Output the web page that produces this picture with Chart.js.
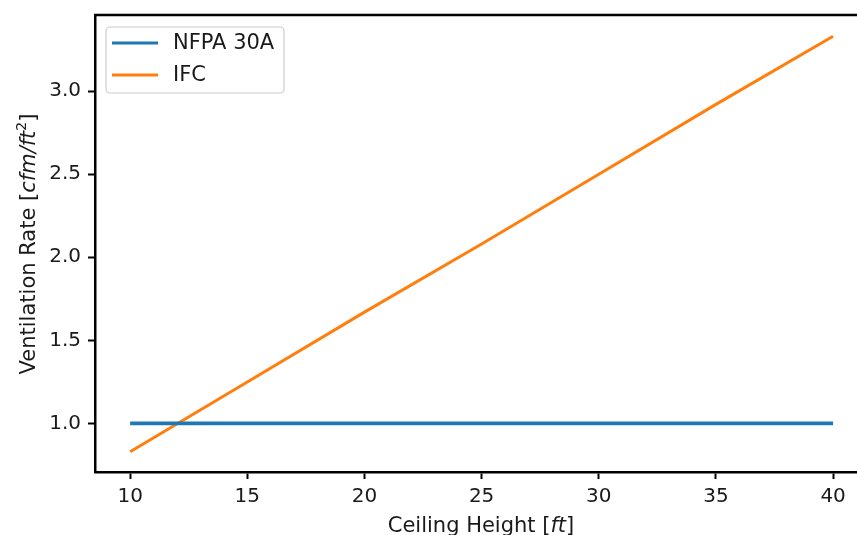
<!DOCTYPE html>
<html>
<head>
<meta charset="utf-8">
<script src="https://cdn.jsdelivr.net/npm/chart.js@4.4.1/dist/chart.umd.min.js"></script>
<style>
  html, body { margin: 0; padding: 0; background: #fff; overflow: hidden; }
  #wrap { width: 857px; height: 535px; }
</style>
</head>
<body>
<div id="wrap"><canvas id="grafico" width="857" height="535"></canvas></div>
<script>
// dados
const alturas = [10, 15, 20, 25, 30, 35, 40];
const nfpa30a = [1.0, 1.0, 1.0, 1.0, 1.0, 1.0, 1.0];
const ifc = [0.83, 1.25, 1.67, 2.08, 2.5, 2.92, 3.33];
const ticksX = [10, 15, 20, 25, 30, 35, 40];
const ticksY = [1.0, 1.5, 2.0, 2.5, 3.0];
const nomes = ["NFPA 30A", "IFC"];

const fonte = "DejaVu Sans";
const tamTicks = 20;
const tamFonte = 21;
const corTexto = "#1a1a1a";

function pontos(xs, ys) {
  return xs.map((x, i) => ({ x: x, y: ys[i] }));
}

// escreve os títulos dos eixos (com itálico), a moldura de cima e a legenda
const extras = {
  id: "extras",
  afterDraw(chart) {
    const c = chart.ctx;
    const a = chart.chartArea;
    c.save();
    c.fillStyle = corTexto;
    c.textBaseline = "alphabetic";

    function partes(lista) {
      let largura = 0;
      lista.forEach(p => {
        c.font = (p.it ? "italic " : "") + (p.sz || tamFonte) + "px " + fonte;
        p.w = c.measureText(p.t).width;
        largura += p.w;
      });
      return largura;
    }
    function escrever(lista, x0, y0) {
      let x = x0;
      lista.forEach(p => {
        c.font = (p.it ? "italic " : "") + (p.sz || tamFonte) + "px " + fonte;
        c.textAlign = "left";
        c.fillText(p.t, x, y0 + (p.dy || 0));
        x += p.w;
      });
    }

    // eixo x
    const tx = [{ t: "Ceiling Height [" }, { t: "ft", it: true }, { t: "]" }];
    const lx = partes(tx);
    escrever(tx, 481 - lx / 2, 532);

    // eixo y
    const ty = [{ t: "Ventilation Rate [" }, { t: "cfm/ft", it: true }, { t: "2", sz: 14, dy: -9 }, { t: "]" }];
    const ly = partes(ty);
    c.save();
    c.translate(35, 244);
    c.rotate(-Math.PI / 2);
    escrever(ty, -ly / 2, 0);
    c.restore();

    // moldura superior
    c.strokeStyle = "#000";
    c.lineWidth = 2.5;
    c.beginPath();
    c.moveTo(a.left - 1, a.top);
    c.lineTo(a.right + 2, a.top);
    c.stroke();

    // legenda
    const bx = a.left + 11, by = a.top + 12, bw = 178, bh = 66, r = 4;
    c.fillStyle = "rgba(255,255,255,0.8)";
    c.strokeStyle = "#cccccc";
    c.lineWidth = 1.2;
    c.beginPath();
    c.roundRect(bx, by, bw, bh, r);
    c.fill();
    c.stroke();
    chart.data.datasets.forEach((d, i) => {
      const y = by + 16 + i * 32;
      c.strokeStyle = d.borderColor;
      c.lineWidth = 3;
      c.beginPath();
      c.moveTo(bx + 6, y);
      c.lineTo(bx + 52, y);
      c.stroke();
      c.fillStyle = corTexto;
      c.font = tamFonte + "px " + fonte;
      c.textBaseline = "middle";
      c.textAlign = "left";
      c.fillText(d.label, bx + 67, y + 1);
    });
    c.restore();
  }
};

new Chart(document.getElementById("grafico").getContext("2d"), {
  type: "line",
  data: {
    datasets: [
      {
        label: nomes[0],
        data: pontos(alturas, nfpa30a),
        borderColor: "#1f77b4",
        borderWidth: 3.8,
        pointRadius: 0,
        tension: 0
      },
      {
        label: nomes[1],
        data: pontos(alturas, ifc),
        borderColor: "#ff7f0e",
        borderWidth: 3,
        pointRadius: 0,
        tension: 0
      }
    ]
  },
  options: {
    responsive: false,
    animation: false,
    layout: { padding: { top: 15, right: 0, left: 0, bottom: 0 } },
    plugins: {
      legend: { display: false },
      tooltip: { enabled: false },
      title: { display: false }
    },
    scales: {
      x: {
        type: "linear",
        min: 8.5,
        max: 41.02,
        afterBuildTicks: s => { s.ticks = ticksX.map(v => ({ value: v })); },
        afterFit: s => { s.height = 63; s.paddingLeft = 0; s.paddingRight = 0; },
        grid: { drawOnChartArea: false, drawTicks: true, tickLength: 7, tickColor: "#000", tickWidth: 2 },
        border: { display: true, color: "#000", width: 2.5 },
        ticks: {
          color: corTexto,
          padding: 6,
          maxRotation: 0,
          font: { family: fonte, size: tamTicks },
          callback: v => String(v)
        }
      },
      y: {
        type: "linear",
        min: 0.708,
        max: 3.458,
        afterBuildTicks: s => { s.ticks = ticksY.map(v => ({ value: v })); },
        afterFit: s => { s.width = 95; s.paddingTop = 0; s.paddingBottom = 0; },
        grid: { drawOnChartArea: false, drawTicks: true, tickLength: 7, tickColor: "#000", tickWidth: 2 },
        border: { display: true, color: "#000", width: 2.5 },
        ticks: {
          color: corTexto,
          padding: 7,
          font: { family: fonte, size: tamTicks },
          callback: v => Number(v).toFixed(1)
        }
      }
    }
  },
  plugins: [extras]
});
</script>
</body>
</html>
